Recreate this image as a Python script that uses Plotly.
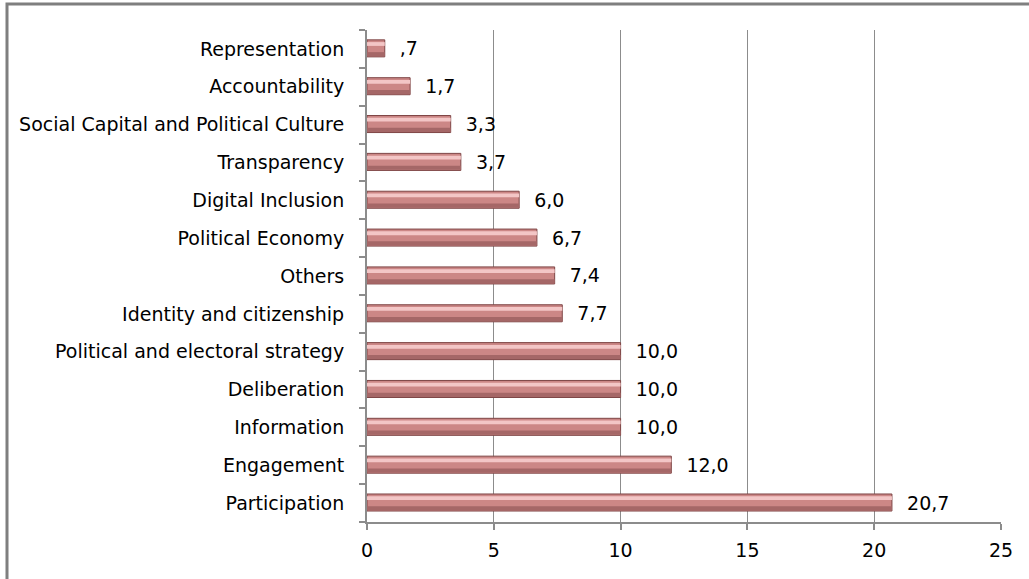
import plotly.graph_objects as go

categories = ["Participation", "Engagement", "Information", "Deliberation",
              "Political and electoral strategy", "Identity and citizenship",
              "Others", "Political Economy", "Digital Inclusion", "Transparency",
              "Social Capital and Political Culture", "Accountability", "Representation"]
values = [20.7, 12.0, 10.0, 10.0, 10.0, 7.7, 7.4, 6.7, 6.0, 3.7, 3.3, 1.7, 0.7]
x_ticks = [0, 5, 10, 15, 20, 25]

def fmt(v):
    s = f"{v:.1f}".replace(".", ",")
    if s.startswith("0,"):
        s = s[1:]
    return s

labels = ["  " + fmt(v) for v in values]

FONT = "DejaVu Sans"

fig = go.Figure()
# main bar body
fig.add_trace(go.Bar(
    y=categories, x=values, orientation="h",
    width=0.45, offset=-0.21,
    marker=dict(color="#CC8786", line=dict(color="#7E4545", width=1)),
    text=labels, textposition="outside", cliponaxis=False, constraintext="none",
    textfont=dict(family=FONT, size=19, color="#000000"),
    hoverinfo="skip", showlegend=False,
))
# lower shade to suggest the glossy gradient
fig.add_trace(go.Bar(
    y=categories, x=values, orientation="h",
    width=0.11, offset=-0.195,
    marker=dict(color="#A56767", line=dict(width=0)),
    hoverinfo="skip", showlegend=False,
))
# highlight strip
fig.add_trace(go.Bar(
    y=categories, x=values, orientation="h",
    width=0.1, offset=0.08,
    marker=dict(color="#F3C6C6", line=dict(width=0)),
    hoverinfo="skip", showlegend=False,
))

fig.update_layout(
    width=1029, height=579,
    barmode="overlay",
    paper_bgcolor="white", plot_bgcolor="white",
    margin=dict(l=367, r=28, t=30, b=57),
    font=dict(family=FONT, size=19, color="#000000"),
    xaxis=dict(
        range=[0, 25], tickvals=x_ticks, ticktext=[str(t) for t in x_ticks],
        showgrid=True, gridcolor="#8C8C8C", gridwidth=1,
        showline=True, linecolor="#8C8C8C", linewidth=2,
        ticks="outside", ticklen=6, tickcolor="#8C8C8C", tickwidth=2,
        ticklabelstandoff=4, zeroline=False,
        tickfont=dict(family=FONT, size=19),
    ),
    yaxis=dict(
        categoryorder="array", categoryarray=categories,
        showline=True, linecolor="#8C8C8C", linewidth=2,
        ticks="outside", ticklen=6, tickcolor="#8C8C8C", tickwidth=2,
        tickson="boundaries", ticklabelstandoff=17,
        showgrid=False, tickfont=dict(family=FONT, size=19),
    ),
    shapes=[dict(type="rect", xref="paper", yref="paper",
                 x0=(7 - 367) / 634, x1=(1040 - 367) / 634,
                 y0=(522 - 590) / 492, y1=1 + (30 - 4) / 492,
                 line=dict(color="#7F7F7F", width=3), layer="below")],
)

fig.write_html("out.html", config={"displayModeBar": False},
               post_script="document.body.style.margin='0';document.body.style.overflow='hidden';")
